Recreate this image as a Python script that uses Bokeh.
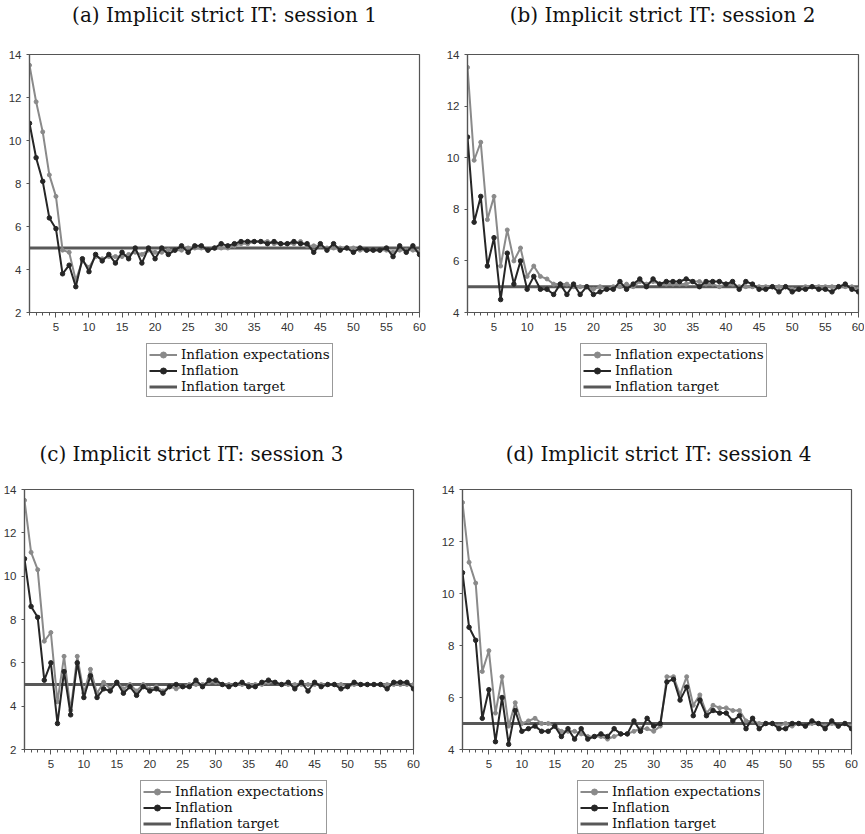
from bokeh.plotting import figure
from bokeh.layouts import column, row
from bokeh.models import Legend, LegendItem, Range1d, FixedTicker, Label
from bokeh.embed import file_html
from bokeh.resources import INLINE

periods = list(range(1, 61))
TARGET = 5.0

titles = ["(a) Implicit strict IT: session 1", "(b) Implicit strict IT: session 2",
          "(c) Implicit strict IT: session 3", "(d) Implicit strict IT: session 4"]

exp_a = [13.5, 11.8, 10.4, 8.4, 7.4, 4.9, 4.8, 3.5, 4.4, 4.1, 4.6, 4.5, 4.6, 4.6, 4.6, 4.7, 4.8, 4.7, 4.9, 4.8,
         4.8, 4.9, 4.9, 4.9, 5.0, 5.0, 5.0, 4.9, 5.0, 5.0, 5.0, 5.1, 5.2, 5.2, 5.3, 5.3, 5.3, 5.2, 5.2, 5.2,
         5.2, 5.3, 5.1, 5.1, 5.1, 5.0, 5.0, 5.0, 5.0, 5.0, 4.9, 4.9, 4.9, 4.9, 4.9, 4.8, 4.9, 4.9, 4.9, 4.8]
inf_a = [10.8, 9.2, 8.1, 6.4, 5.9, 3.8, 4.2, 3.2, 4.5, 3.9, 4.7, 4.4, 4.7, 4.3, 4.8, 4.5, 5.0, 4.3, 5.0, 4.5,
         5.0, 4.7, 4.9, 5.1, 4.8, 5.1, 5.1, 4.9, 5.0, 5.2, 5.1, 5.2, 5.3, 5.3, 5.3, 5.3, 5.2, 5.3, 5.2, 5.2,
         5.3, 5.2, 5.2, 4.8, 5.2, 4.9, 5.2, 4.9, 5.0, 4.8, 5.0, 4.9, 4.9, 4.9, 5.0, 4.6, 5.1, 4.8, 5.1, 4.7]

exp_b = [13.5, 9.9, 10.6, 7.6, 8.5, 5.8, 7.2, 6.0, 6.5, 5.4, 5.8, 5.4, 5.3, 5.1, 5.1, 5.1, 5.0, 5.0, 5.0, 4.9,
         5.0, 4.9, 5.0, 5.0, 5.1, 5.0, 5.2, 5.1, 5.2, 5.1, 5.1, 5.1, 5.1, 5.1, 5.2, 5.2, 5.1, 5.1, 5.0, 5.1,
         5.1, 5.0, 5.0, 5.0, 5.0, 5.0, 5.0, 5.0, 5.0, 4.9, 4.9, 5.0, 5.0, 5.0, 5.0, 5.0, 5.0, 5.0, 5.0, 4.9]
inf_b = [10.8, 7.5, 8.5, 5.8, 6.9, 4.5, 6.3, 5.1, 6.0, 4.9, 5.4, 4.9, 4.9, 4.7, 5.1, 4.7, 5.1, 4.7, 5.0, 4.7,
         4.8, 4.9, 4.9, 5.2, 4.9, 5.1, 5.3, 5.0, 5.3, 5.1, 5.2, 5.2, 5.2, 5.3, 5.2, 5.0, 5.2, 5.2, 5.2, 5.1,
         5.2, 4.9, 5.2, 5.1, 4.9, 4.9, 5.0, 4.8, 5.0, 4.8, 4.9, 4.9, 5.0, 4.9, 4.9, 4.8, 5.0, 5.1, 4.9, 4.8]

exp_c = [13.5, 11.1, 10.3, 7.0, 7.4, 4.2, 6.3, 3.8, 6.3, 4.6, 5.7, 4.6, 5.1, 4.8, 5.1, 4.8, 5.0, 4.7, 5.0, 4.8,
         4.9, 4.7, 4.9, 4.8, 4.9, 5.0, 5.0, 5.0, 5.1, 5.1, 5.0, 5.0, 5.0, 5.0, 5.0, 5.0, 5.0, 5.1, 5.1, 5.0,
         5.0, 5.0, 5.0, 5.0, 5.0, 5.0, 5.0, 5.0, 5.0, 4.9, 5.0, 5.0, 5.0, 5.0, 5.0, 5.0, 5.0, 5.0, 5.0, 5.0]
inf_c = [10.8, 8.6, 8.1, 5.2, 6.0, 3.2, 5.6, 3.6, 6.0, 4.4, 5.4, 4.4, 4.8, 4.7, 5.1, 4.6, 4.9, 4.5, 4.9, 4.7,
         4.8, 4.6, 4.9, 5.0, 4.9, 4.9, 5.2, 4.9, 5.2, 5.2, 5.0, 4.9, 5.0, 5.1, 4.9, 4.9, 5.1, 5.2, 5.1, 5.0,
         5.1, 4.8, 5.1, 4.7, 5.1, 4.9, 5.0, 5.0, 4.8, 4.9, 5.1, 5.0, 5.0, 5.0, 5.0, 4.8, 5.1, 5.1, 5.1, 4.8]

exp_d = [13.5, 11.2, 10.4, 7.0, 7.8, 5.4, 6.8, 4.9, 5.8, 5.0, 5.1, 5.2, 5.0, 5.0, 4.9, 4.7, 4.7, 4.7, 4.6, 4.5,
         4.5, 4.5, 4.4, 4.5, 4.6, 4.6, 4.7, 4.8, 4.8, 4.7, 4.9, 6.8, 6.8, 6.1, 6.8, 5.7, 6.1, 5.4, 5.7, 5.6,
         5.6, 5.5, 5.5, 5.1, 5.1, 5.0, 5.0, 5.0, 4.9, 5.0, 4.9, 5.0, 4.9, 5.0, 5.0, 4.9, 5.0, 4.9, 5.0, 4.9]
inf_d = [10.8, 8.7, 8.2, 5.2, 6.3, 4.3, 6.0, 4.2, 5.5, 4.7, 4.8, 4.9, 4.7, 4.7, 4.9, 4.5, 4.8, 4.4, 4.8, 4.4,
         4.5, 4.6, 4.5, 4.8, 4.6, 4.6, 5.1, 4.7, 5.2, 4.9, 5.0, 6.6, 6.7, 5.9, 6.4, 5.3, 5.9, 5.3, 5.5, 5.4,
         5.4, 5.1, 5.3, 4.8, 5.2, 4.8, 5.0, 5.0, 4.8, 4.8, 5.0, 5.0, 4.9, 5.1, 5.0, 4.8, 5.1, 4.9, 5.0, 4.8]

y_mins = [2, 4, 2, 4]
y_max = 14
legend_labels = ["Inflation expectations", "Inflation", "Inflation target"]

EXP_COL = "#8a8a8a"
INF_COL = "#262626"
TGT_COL = "#585858"


def bare_fig(h):
    f = figure(width=432, height=h, output_backend="svg", toolbar_location=None,
               x_range=Range1d(-100, -99), y_range=Range1d(0, 1),
               x_axis_type=None, y_axis_type=None,
               min_border_left=0, min_border_right=0, min_border_top=0, min_border_bottom=0)
    f.grid.visible = False
    f.outline_line_color = None
    f.background_fill_color = "white"
    f.border_fill_color = "white"
    return f


def series(p, exp, inf, msize=1.0):
    tgt = p.line(periods, [TARGET] * len(periods), line_color=TGT_COL, line_width=3)
    le = p.line(periods, exp, line_color=EXP_COL, line_width=2)
    se = p.scatter(periods, exp, marker="circle", size=4 * msize, fill_color=EXP_COL, line_color=EXP_COL)
    li = p.line(periods, inf, line_color=INF_COL, line_width=2)
    si = p.scatter(periods, inf, marker="circle", size=4.5 * msize, fill_color=INF_COL, line_color=INF_COL)
    return tgt, le, se, li, si


def title_fig(text, h, cx, cy_from_bottom):
    f = bare_fig(h)
    f.add_layout(Label(x=cx, y=cy_from_bottom, x_units="screen", y_units="screen", text=text,
                       text_align="center", text_baseline="middle",
                       text_font="DejaVu Serif", text_font_size="20px", text_color="#111111"))
    return f


def panel(exp, inf, ymin, frame_h, bl, br):
    h = 14 + frame_h + 26
    p = figure(width=432, height=h, output_backend="svg", toolbar_location=None,
               x_range=Range1d(1, 60), y_range=Range1d(ymin, y_max),
               min_border_left=bl, min_border_right=br, min_border_top=14,
               min_border_bottom=26)
    p.grid.visible = False
    p.outline_line_color = "#555555"
    p.outline_line_width = 1.2
    p.background_fill_color = "white"
    p.border_fill_color = "white"

    for ax in (p.xaxis[0], p.yaxis[0]):
        ax.axis_line_color = "#555555"
        ax.axis_line_width = 1.2
        ax.major_tick_line_color = "#555555"
        ax.minor_tick_line_color = "#555555"
        ax.major_label_text_font = "Liberation Sans"
        ax.major_label_text_font_size = "11.5px"
        ax.major_label_text_color = "#333333"
        ax.major_tick_in = 0
        ax.minor_tick_in = 0
    p.xaxis[0].ticker = FixedTicker(ticks=list(range(5, 61, 5)), minor_ticks=periods)
    p.xaxis[0].major_tick_out = 5
    p.xaxis[0].minor_tick_out = 3
    p.yaxis[0].ticker = FixedTicker(ticks=list(range(ymin, y_max + 1, 2)))
    p.yaxis[0].major_tick_out = 3
    p.yaxis[0].minor_tick_line_color = None

    series(p, exp, inf)
    return p


def legend_fig(exp, inf, h, x0, y0):
    f = bare_fig(h)
    tgt, le, se, li, si = series(f, exp, inf, msize=0.7)
    legend = Legend(items=[LegendItem(label=legend_labels[0], renderers=[le, se]),
                           LegendItem(label=legend_labels[1], renderers=[li, si]),
                           LegendItem(label=legend_labels[2], renderers=[tgt])],
                    location=(x0, y0), orientation="vertical",
                    label_text_font="DejaVu Serif", label_text_font_size="13.5px",
                    label_text_color="#111111", label_height=15, glyph_height=15,
                    glyph_width=28, spacing=0, padding=2, margin=0,
                    border_line_color="#333333", border_line_width=1,
                    label_standoff=4, background_fill_alpha=1.0)
    f.add_layout(legend, "center")
    return f


ta = title_fig(titles[0], 40, 224, 26)
tb = title_fig(titles[1], 40, 230, 26)
tc = title_fig(titles[2], 38, 191, 22)
td = title_fig(titles[3], 38, 226, 22)

pa = panel(exp_a, inf_a, y_mins[0], 258, 29, 13)
pb = panel(exp_b, inf_b, y_mins[1], 258, 35, 6)
pc = panel(exp_c, inf_c, y_mins[2], 260, 24, 19)
pd = panel(exp_d, inf_d, y_mins[3], 260, 30, 13)

la = legend_fig(exp_a, inf_a, 99, 146, 40)
lb = legend_fig(exp_b, inf_b, 99, 148, 40)
lc = legend_fig(exp_c, inf_c, 59, 140, 0)
ld = legend_fig(exp_d, inf_d, 59, 145, 0)

layout = column(row(ta, tb), row(pa, pb), row(la, lb), row(tc, td), row(pc, pd), row(lc, ld))
open("out.html", "w").write(file_html(layout, INLINE))
